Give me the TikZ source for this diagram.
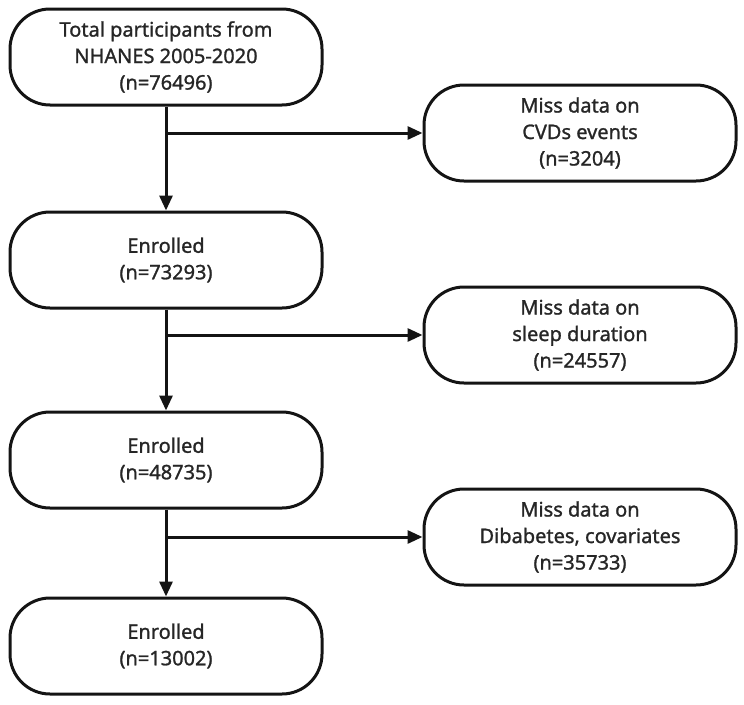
\documentclass[tikz,border=0pt]{standalone}
\usepackage{fontspec}
\setmainfont{Noto Sans}[FakeBold=1.2,BoldFont={Noto Sans},BoldFeatures={FakeBold=1.2}]
\usetikzlibrary{arrows.meta,positioning,calc}
\definecolor{LineGray}{rgb}{0.08,0.08,0.08}
\definecolor{TextGray}{rgb}{0.15,0.15,0.15}
\tikzset{
  box/.style={draw=LineGray, line width=3pt, rounded corners=40pt,
    minimum width=312pt, minimum height=96pt, align=center,
    text=TextGray, font=\fontsize{20}{26.5}\selectfont\bfseries},
  arrow/.style={draw=LineGray, line width=3pt, -{Triangle[length=15pt,width=13pt]}},
  branch/.style={draw=LineGray, line width=3pt}
}
\begin{document}
\begin{tikzpicture}[x=1pt,y=-1pt]
\useasboundingbox (0,0) rectangle (744,704);
% left column
\node[box] (total) at (166,57) {Total participants from\\NHANES 2005-2020\\(n=76496)};
\node[box] (enr1) at (166,260) {Enrolled\\(n=73293)};
\node[box] (enr2) at (166,460) {Enrolled\\(n=48735)};
\node[box] (enr3) at (166,646) {Enrolled\\(n=13002)};
% exclusions
\node[box] (miss1) at (580,133) {Miss data on\\CVDs events\\(n=3204)};
\node[box] (miss2) at (580,335) {Miss data on\\sleep duration\\(n=24557)};
\node[box] (miss3) at (580,537) {Miss data on\\Dibabetes, covariates\\(n=35733)};
% arrows
\path[arrow] (total) -- (enr1);
\path[arrow] (enr1) -- (enr2);
\path[arrow] (enr2) -- (enr3);
\coordinate (b1) at (total.south |- miss1.west);
\coordinate (b2) at (enr1.south |- miss2.west);
\coordinate (b3) at (enr2.south |- miss3.west);
\path[arrow] (b1) -- (miss1);
\path[arrow] (b2) -- (miss2);
\path[arrow] (b3) -- (miss3);
\end{tikzpicture}
\end{document}
